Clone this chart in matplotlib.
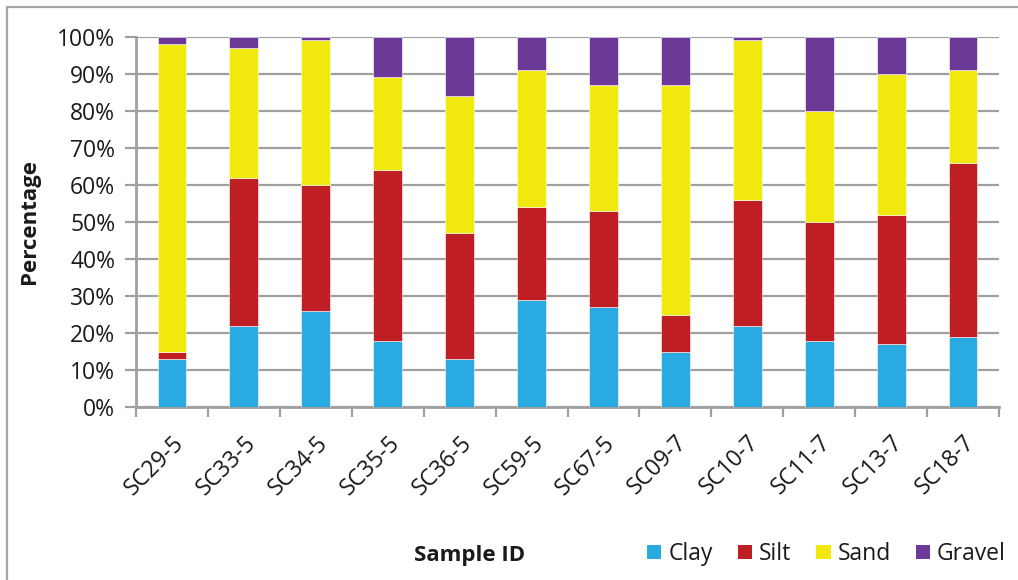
import matplotlib
matplotlib.use("Agg")
import matplotlib.pyplot as plt
from matplotlib.patches import Patch, Rectangle
from matplotlib.ticker import PercentFormatter, FixedLocator
import numpy as np

samples = ["SC29-5", "SC33-5", "SC34-5", "SC35-5", "SC36-5", "SC59-5",
           "SC67-5", "SC09-7", "SC10-7", "SC11-7", "SC13-7", "SC18-7"]
clay = [13, 22, 26, 18, 13, 29, 27, 15, 22, 18, 17, 19]
silt = [2, 40, 34, 46, 34, 25, 26, 10, 34, 32, 35, 47]
sand = [83, 35, 39, 25, 37, 37, 34, 62, 43, 30, 38, 25]
gravel = [2, 3, 1, 11, 16, 9, 13, 13, 1, 20, 10, 9]

series_names = ["Clay", "Silt", "Sand", "Gravel"]
series_vals = [clay, silt, sand, gravel]
colors = ["#29ABE2", "#BE1E24", "#F2EA0F", "#6C3A96"]

plt.rcParams['font.family'] = ['Open Sans', 'DejaVu Sans']
W, H = 1018, 580
fig = plt.figure(figsize=(W / 100, H / 100), dpi=100)
ax = fig.add_axes([136 / W, 1 - 407.3 / H, (999 - 136) / W, (407.3 - 36.7) / H])

x = np.arange(len(samples))
bottom = np.zeros(len(samples))
for name, vals, c in zip(series_names, series_vals, colors):
    ax.bar(x, vals, width=0.4, bottom=bottom, color=c, edgecolor="white",
           linewidth=0.4, label=name, zorder=3)
    bottom += np.array(vals)

gray = "#a0a0a0"
txt = "#1a1a1a"
ax.set_xlim(-0.5, len(samples) - 0.5)
ax.set_ylim(0, 100)
ax.yaxis.set_major_locator(FixedLocator(np.arange(0, 101, 10)))
ax.yaxis.set_major_formatter(PercentFormatter(decimals=0))
ax.grid(axis="y", color=gray, linewidth=1.6, zorder=0)
ax.set_axisbelow(True)

ax.set_xticks(x)
ax.set_xticklabels(samples, rotation=45, ha="right", va="top",
                   rotation_mode="anchor", fontsize=16.5, color=txt)
ax.tick_params(axis="x", length=0, pad=17)
ax.set_xticks(np.arange(-0.5, len(samples), 1), minor=True)
ax.tick_params(axis="x", which="minor", length=7, width=1.6, color=gray, direction="out")
ax.tick_params(axis="y", length=8, width=1.6, color=gray, labelsize=16.5,
               labelcolor=txt, pad=7)

for s in ["top", "right"]:
    ax.spines[s].set_visible(False)
for s in ["left", "bottom"]:
    ax.spines[s].set_color(gray)
    ax.spines[s].set_linewidth(2)

fig.text(30 / W, 1 - 222 / H, "Percentage", rotation=90, ha="center", va="center",
         fontsize=16, fontweight="bold", color=txt)
fig.text(470 / W, 1 - 556 / H, "Sample ID", ha="center", va="center",
         fontsize=16, fontweight="bold", color=txt)

handles = [Patch(facecolor=c, edgecolor="none", label=n) for n, c in zip(series_names, colors)]
fig.legend(handles=handles, loc="center right", bbox_to_anchor=(1006 / W, 1 - 554 / H),
           ncol=4, frameon=False, fontsize=16.5, handlelength=0.62, handleheight=0.62,
           handletextpad=0.3, columnspacing=1.1, borderpad=0, borderaxespad=0,
           labelcolor=txt)

fig.patches.append(Rectangle((7 / W, -0.1), 1.2, 1.1 - 7 / H, transform=fig.transFigure,
                             fill=False, edgecolor="#a6a6a6", linewidth=1.6, zorder=0))

fig.savefig("out.png", dpi=100)
